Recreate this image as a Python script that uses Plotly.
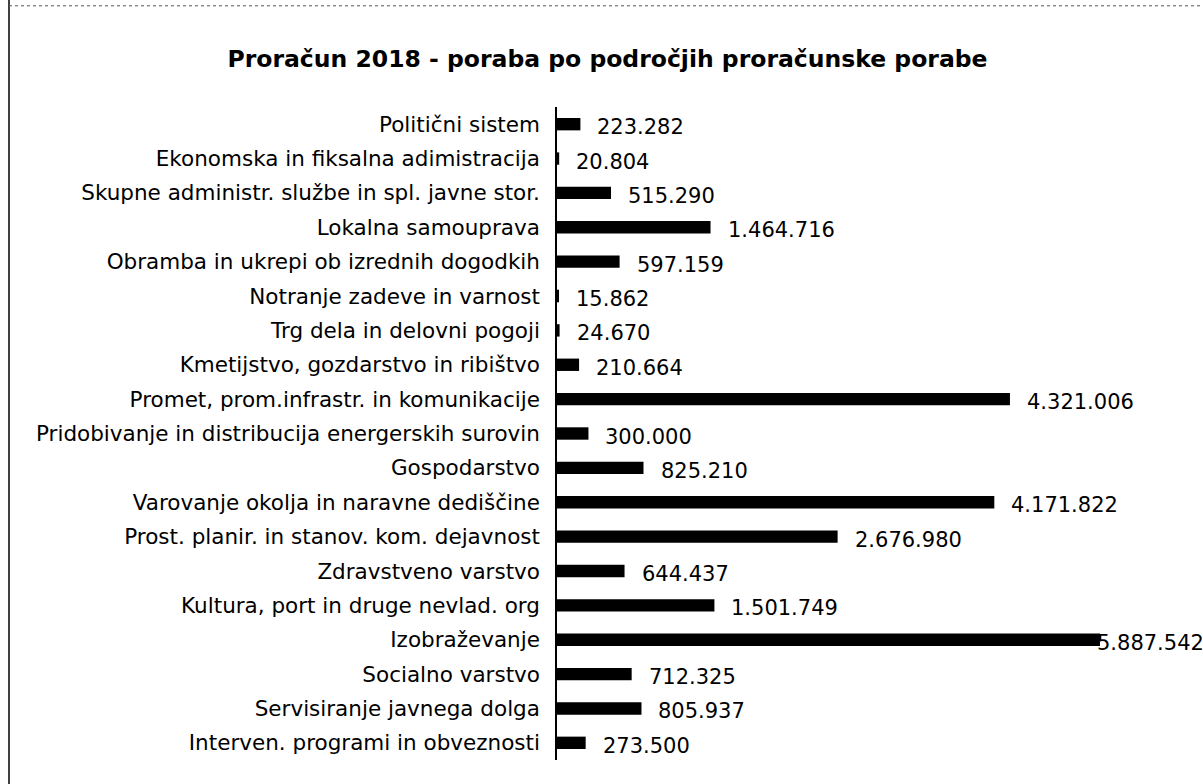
import plotly.graph_objects as go

categories = [
    "Politični sistem",
    "Ekonomska in fiksalna adimistracija",
    "Skupne administr. službe in spl. javne stor.",
    "Lokalna samouprava",
    "Obramba in ukrepi ob izrednih dogodkih",
    "Notranje zadeve in varnost",
    "Trg dela in delovni pogoji",
    "Kmetijstvo, gozdarstvo in ribištvo",
    "Promet, prom.infrastr. in komunikacije",
    "Pridobivanje in distribucija energerskih surovin",
    "Gospodarstvo",
    "Varovanje okolja in naravne dediščine",
    "Prost. planir. in stanov. kom. dejavnost",
    "Zdravstveno varstvo",
    "Kultura, port in druge nevlad. org",
    "Izobraževanje",
    "Socialno varstvo",
    "Servisiranje javnega dolga",
    "Interven. programi in obveznosti",
]
values = [223282, 20804, 515290, 1464716, 597159, 15862, 24670, 210664,
          4321006, 300000, 825210, 4171822, 2676980, 644437, 1501749,
          5887542, 712325, 805937, 273500]
value_labels = ["223.282", "20.804", "515.290", "1.464.716", "597.159", "15.862",
                "24.670", "210.664", "4.321.006", "300.000", "825.210",
                "4.171.822", "2.676.980", "644.437", "1.501.749", "5.887.542",
                "712.325", "805.937", "273.500"]
axis_max = 5180000

FONT = "DejaVu Sans"

fig = go.Figure()
fig.add_trace(go.Bar(
    x=values, y=categories, orientation="h",
    marker=dict(color="black", line=dict(width=0)),
    cliponaxis=True, hoverinfo="skip",
))

annotations = []
for cat, v, lab in zip(categories, values, value_labels):
    clipped = v > axis_max
    annotations.append(dict(
        x=min(v, axis_max), y=cat, xref="x", yref="y",
        text=lab, showarrow=False, xanchor="left", yshift=-3,
        xshift=-5 if clipped else 15,
        font=dict(family=FONT, size=21, color="black"),
    ))

fig.update_layout(
    width=1203, height=784,
    margin=dict(l=557, r=103, t=107, b=24),
    paper_bgcolor="white", plot_bgcolor="white",
    showlegend=False,
    bargap=0.64,
    title=dict(
        text="<b>Proračun 2018 - poraba po področjih proračunske porabe</b>",
        x=0.505, xanchor="center", y=0.925, yanchor="middle",
        font=dict(family=FONT, size=23.5, color="black"),
    ),
    xaxis=dict(range=[0, axis_max], showgrid=False, zeroline=False,
               showticklabels=False, showline=False, fixedrange=True),
    yaxis=dict(autorange="reversed", showgrid=False, showline=True,
               linecolor="black", linewidth=1.5, ticks="",
               ticklabelstandoff=11,
               tickfont=dict(family=FONT, size=21.5, color="black")),
    annotations=annotations,
    shapes=[
        dict(type="line", xref="paper", yref="paper",
             x0=(9 - 557) / 543, x1=(9 - 557) / 543, y0=-0.06, y1=1.17,
             line=dict(color="black", width=1.5)),
        dict(type="line", xref="paper", yref="paper",
             x0=(9 - 557) / 543, x1=(1203 - 557) / 543, y0=1.155, y1=1.155,
             line=dict(color="#555555", width=1, dash="dot")),
    ],
)

fig.write_html("out.html")
